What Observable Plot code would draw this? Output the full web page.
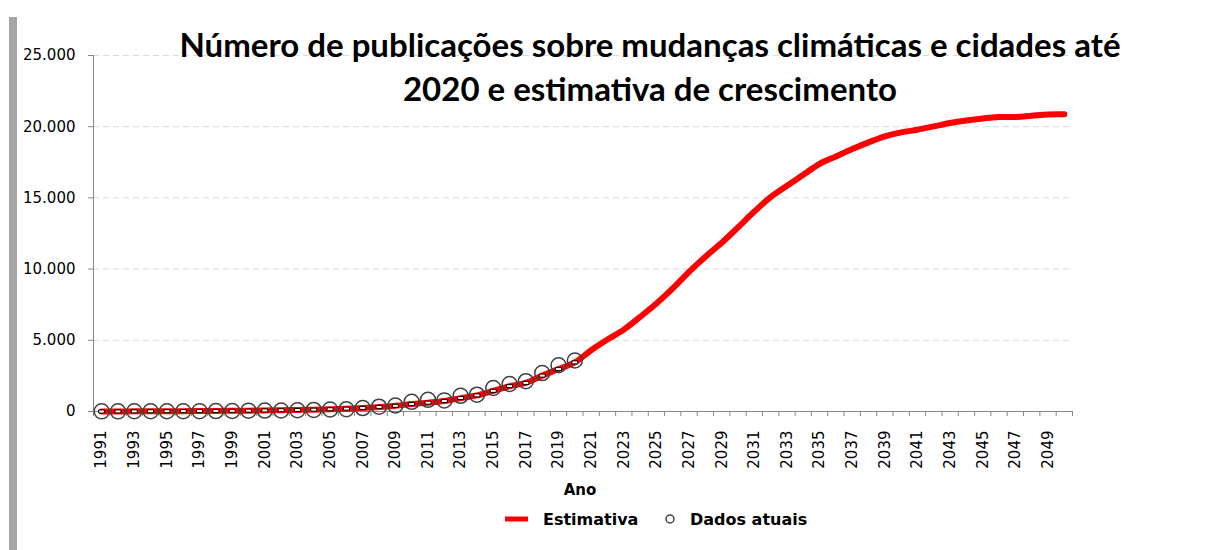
<!DOCTYPE html>
<html><head><meta charset="utf-8">
<script src="https://cdn.jsdelivr.net/npm/d3@7"></script>
<script src="https://cdn.jsdelivr.net/npm/@observablehq/plot@0.6"></script>
<style>
html,body{margin:0;padding:0;background:#fff;overflow:hidden}
#wrap{position:relative;width:1214px;height:550px;overflow:hidden;background:#fff}
#bar{position:absolute;left:9px;top:17px;width:8px;height:533px;background:#a5a5a5}
#wrap svg{position:absolute;left:0;top:0}
</style>
</head><body>
<div id="wrap"><div id="bar"></div></div>
<script>
// ---- data ----
const years = d3.range(1991, 2051);
const estimativa = [
  0, 5, 10, 15, 20, 25, 30, 40, 50, 60,
  75, 90, 110, 130, 160, 200, 250, 320, 400, 520,
  620, 740, 940, 1130, 1450, 1780, 2010, 2520, 2980, 3450,
  4300, 5050, 5750, 6640, 7580, 8640, 9810, 10870, 11850, 12930,
  14040, 15050, 15850, 16620, 17390, 17910, 18430, 18900, 19320, 19600,
  19790, 20020, 20260, 20440, 20580, 20680, 20680, 20770, 20860, 20870
];
const dadosYears = d3.range(1991, 2021);
const dadosAtuais = [
  10, 10, 15, 15, 20, 20, 25, 30, 35, 60,
  65, 70, 85, 110, 140, 160, 240, 340, 420, 680,
  820, 780, 1100, 1180, 1650, 1930, 2130, 2700, 3250, 3580
];
const yTicks = [0, 5000, 10000, 15000, 20000, 25000];
const xLabelYears = d3.range(1991, 2050, 2);
const titleLines = ["Número de publicações sobre mudanças climáticas e cidades até", "2020 e estimativa de crescimento"];
const xTitle = "Ano";
const legendLabels = ["Estimativa", "Dados atuais"];

// ---- tables ----
const est = years.map((year, i) => ({year, value: estimativa[i]}));
const act = dadosYears.map((year, i) => ({year, value: dadosAtuais[i]}));
const bounds = d3.range(years.length + 1).map(i => years[0] - 0.5 + i);
const fmt = d3.formatLocale({decimal: ",", thousands: ".", grouping: [3], currency: ["R$", ""]}).format(",d");

const rectSymbol = {draw(ctx) { ctx.moveTo(-3, -1.5); ctx.lineTo(3, -1.5); ctx.lineTo(3, 1.5); ctx.lineTo(-3, 1.5); ctx.closePath(); }};

const chart = Plot.plot({
  width: 1214, height: 550,
  marginLeft: 93, marginRight: 142, marginTop: 55, marginBottom: 139,
  style: {fontFamily: "'DejaVu Sans', sans-serif", fontSize: "15px", color: "#000", background: "transparent"},
  x: {domain: [bounds[0], bounds[bounds.length - 1]]},
  y: {domain: [yTicks[0], yTicks[yTicks.length - 1]]},
  marks: [
    Plot.gridY({ticks: yTicks.slice(1), stroke: "#d9d9d9", strokeOpacity: 1, strokeDasharray: "6,4"}),
    Plot.axisY({ticks: yTicks, tickSize: 5, tickPadding: 13, tickFormat: fmt, stroke: "#868686", fill: "#000", label: null}),
    Plot.axisX({ticks: xLabelYears, tickSize: 0, tickPadding: 19, tickRotate: -90, tickFormat: d => String(d), fill: "#000", label: null}),
    Plot.axisX({ticks: bounds, tickSize: 5, tickFormat: () => "", stroke: "#868686", label: null}),
    Plot.ruleY([0], {stroke: "#868686"}),
    Plot.ruleX([bounds[0]], {stroke: "#868686"}),
    Plot.line(est, {x: "year", y: "value", stroke: "#ff0000", strokeWidth: 6, curve: "catmull-rom", strokeLinecap: "round", strokeLinejoin: "round"}),
    Plot.dot(est.filter(d => d.year <= dadosYears[dadosYears.length - 1]), {x: "year", y: "value", symbol: rectSymbol, r: 3, fill: "#fff", stroke: "#000", strokeWidth: 1}),
    Plot.dot(act, {x: "year", y: "value", r: 7.5, fill: "none", stroke: "#404040", strokeWidth: 1.5})
  ]
});
document.getElementById("wrap").appendChild(chart);

// ---- title, axis title, legend ----
const svg = d3.select(chart);
const tfont = "Lato, 'Open Sans', sans-serif";
function addText(x, y, txt, family, size, anchor) {
  return svg.append("text").attr("x", x).attr("y", y).attr("text-anchor", anchor)
    .style("font-family", family).style("font-weight", "bold").style("font-size", size + "px")
    .attr("fill", "#000").text(txt);
}
addText(650, 57, titleLines[0], tfont, 33, "middle");
addText(650, 101, titleLines[1], tfont, 33, "middle");
addText(580, 495, xTitle, "'DejaVu Sans'", 15, "middle");
svg.append("line").attr("x1", 505).attr("x2", 528).attr("y1", 519).attr("y2", 519).attr("stroke", "#ff0000").attr("stroke-width", 5);
addText(543, 525, legendLabels[0], "'DejaVu Sans'", 16, "start");
svg.append("circle").attr("cx", 670).attr("cy", 519).attr("r", 4).attr("fill", "none").attr("stroke", "#404040").attr("stroke-width", 1.5);
addText(690, 525, legendLabels[1], "'DejaVu Sans'", 16, "start");
</script>
</body></html>
